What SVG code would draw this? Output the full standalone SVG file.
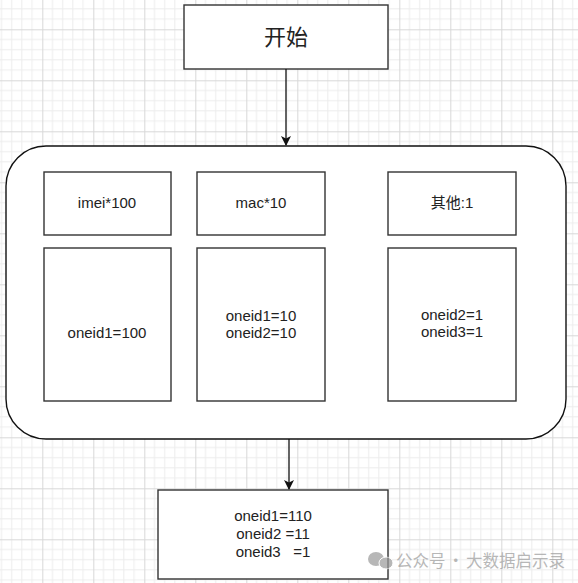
<svg xmlns="http://www.w3.org/2000/svg" width="578" height="583" viewBox="0 0 578 583">
  <defs>
    <pattern id="grid" patternUnits="userSpaceOnUse" x="42.3" y="29.3" width="51" height="51">
      <path d="M10.2 0V51M20.4 0V51M30.6 0V51M40.8 0V51M0 10.2H51M0 20.4H51M0 30.6H51M0 40.8H51" stroke="#ececec" stroke-width="1" fill="none"/>
      <path d="M0.5 0V51M0 0.5H51" stroke="#d8d8d8" stroke-width="1" fill="none"/>
    </pattern>
    <marker id="arrow" viewBox="0 0 10 10" refX="9" refY="5" markerWidth="10" markerHeight="10" markerUnits="userSpaceOnUse" orient="auto">
      <path d="M0 0L10 5L0 10L2.5 5Z" fill="#111"/>
    </marker>
    <style>
      .box { fill: #fff; stroke: #333; stroke-width: 1.4; }
      .lbl { font-family: "Liberation Sans", Arial, "Noto Sans CJK SC", sans-serif; font-size: 15px; fill: #222; text-anchor: middle; }
      .edge { stroke: #111; stroke-width: 1.3; fill: none; marker-end: url(#arrow); }
    </style>
  </defs>
  <rect width="578" height="583" fill="#fff"/>
  <rect width="578" height="583" fill="url(#grid)"/>

  <g id="container">
    <rect x="6" y="146" width="560" height="293" rx="40" ry="40" fill="#fff" stroke="#111" stroke-width="1.4"/>
  </g>

  <g id="start">
    <rect class="box" x="184" y="5" width="204" height="64"/>
    <text class="lbl" x="286" y="45" style="font-size:22px">开始</text>
  </g>

  <g id="imei">
    <rect class="box" x="44" y="172" width="127" height="63"/>
    <text class="lbl" x="107" y="208">imei*100</text>
  </g>
  <g id="mac">
    <rect class="box" x="197" y="172" width="128" height="63"/>
    <text class="lbl" x="261" y="208">mac*10</text>
  </g>
  <g id="other">
    <rect class="box" x="388" y="172" width="128" height="63"/>
    <text class="lbl" x="452" y="208">其他:1</text>
  </g>

  <g id="imei-result">
    <rect class="box" x="44" y="248" width="127" height="153"/>
    <text class="lbl" x="107" y="338">oneid1=100</text>
  </g>
  <g id="mac-result">
    <rect class="box" x="197" y="248" width="128" height="153"/>
    <text class="lbl" x="261" y="321">oneid1=10</text>
    <text class="lbl" x="261" y="338">oneid2=10</text>
  </g>
  <g id="other-result">
    <rect class="box" x="388" y="248" width="128" height="153"/>
    <text class="lbl" x="452" y="320">oneid2=1</text>
    <text class="lbl" x="452" y="337">oneid3=1</text>
  </g>

  <g id="result">
    <rect class="box" x="158" y="490" width="230" height="89"/>
    <text class="lbl" x="273" y="521">oneid1=110</text>
    <text class="lbl" x="273" y="539" xml:space="preserve">oneid2 =11</text>
    <text class="lbl" x="273" y="557" xml:space="preserve">oneid3   =1</text>
  </g>

  <g id="connectors">
    <path class="edge" d="M286 69V145"/>
    <path class="edge" d="M289 439V489"/>
  </g>

  <g id="watermark" opacity="0.7">
    <ellipse cx="376" cy="559" rx="8" ry="7" fill="#9a9a9a"/>
    <ellipse cx="386" cy="563" rx="7" ry="6" fill="#9a9a9a" stroke="#fff" stroke-width="1"/>
    <text x="396" y="567" style="font-family:'Noto Sans CJK SC','Liberation Sans',sans-serif;font-size:16.5px;fill:#9a9a9a">公众号<tspan dx="2">·</tspan><tspan dx="2">大数据启示录</tspan></text>
  </g>
</svg>
